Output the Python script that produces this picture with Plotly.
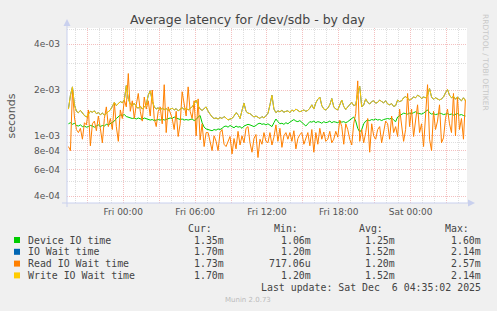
import plotly.graph_objects as go
import pandas as pd

# ---------------- data (values in milliseconds) ----------------
times = pd.date_range("2025-12-04 19:25", periods=200, freq="10min")

device_ms = [
    1.20,1.22,1.19,1.21,1.17,1.16,1.18,1.15,1.16,1.14,
    1.15,1.17,1.16,1.14,1.16,1.18,1.15,1.17,1.16,1.19,
    1.18,1.20,1.22,1.25,1.30,1.34,1.37,1.36,1.38,1.34,
    1.33,1.32,1.30,1.31,1.29,1.31,1.30,1.28,1.31,1.30,
    1.29,1.27,1.28,1.26,1.27,1.28,1.27,1.29,1.27,1.28,
    1.29,1.31,1.30,1.33,1.31,1.29,1.28,1.29,1.27,1.28,
    1.27,1.28,1.29,1.26,1.28,1.33,1.36,1.22,1.14,1.11,
    1.10,1.09,1.08,1.10,1.09,1.11,1.10,1.12,1.15,1.16,
    1.14,1.17,1.15,1.13,1.16,1.14,1.15,1.12,1.16,1.17,
    1.19,1.18,1.16,1.15,1.17,1.20,1.21,1.19,1.20,1.18,
    1.20,1.17,1.15,1.22,1.29,1.24,1.20,1.21,1.19,1.22,
    1.20,1.23,1.26,1.28,1.25,1.24,1.26,1.22,1.18,1.16,
    1.20,1.24,1.23,1.25,1.22,1.24,1.23,1.21,1.24,1.22,
    1.23,1.25,1.22,1.24,1.23,1.22,1.25,1.23,1.24,1.22,
    1.24,1.27,1.30,1.33,1.25,1.12,1.06,1.10,1.20,1.25,
    1.27,1.26,1.28,1.27,1.29,1.27,1.28,1.26,1.28,1.29,
    1.30,1.29,1.31,1.27,1.24,1.33,1.36,1.39,1.41,1.40,
    1.39,1.41,1.40,1.42,1.44,1.41,1.40,1.39,1.41,1.44,
    1.48,1.42,1.39,1.40,1.38,1.39,1.41,1.40,1.38,1.39,
    1.40,1.38,1.39,1.37,1.38,1.40,1.37,1.38,1.36,1.35,
]

write_ms = [
    1.50,1.85,2.10,1.60,1.45,1.42,1.47,1.40,1.36,1.33,
    1.38,1.45,1.43,1.46,1.40,1.42,1.38,1.41,1.37,1.40,
    1.43,1.48,1.56,1.66,1.58,1.62,1.68,1.65,1.72,2.14,
    1.75,1.62,1.58,1.64,1.55,1.52,1.57,1.50,1.55,1.60,
    1.85,1.98,1.70,1.55,1.50,1.53,1.48,1.52,1.49,1.51,
    1.47,1.50,1.52,1.48,1.51,1.46,1.50,1.53,1.49,1.52,
    1.48,1.51,1.55,1.62,1.72,1.58,1.50,1.47,1.52,1.55,
    1.45,1.38,1.33,1.30,1.31,1.29,1.32,1.30,1.34,1.31,
    1.27,1.29,1.30,1.35,1.42,1.38,1.30,1.47,1.64,1.45,
    1.41,1.40,1.36,1.33,1.35,1.32,1.30,1.34,1.31,1.36,
    1.40,1.60,1.85,1.50,1.42,1.46,1.44,1.47,1.43,1.45,
    1.46,1.42,1.48,1.45,1.50,1.47,1.44,1.46,1.48,1.45,
    1.47,1.52,1.60,1.50,1.65,1.74,1.80,1.58,1.50,1.48,
    1.52,1.60,1.76,1.55,1.50,1.48,1.58,1.72,1.56,1.49,
    1.55,1.62,1.66,1.58,1.60,1.90,2.12,1.55,1.60,1.75,
    1.66,1.62,1.68,1.70,1.64,1.66,1.72,1.68,1.65,1.70,
    1.62,1.60,1.63,1.56,1.58,1.72,1.68,1.70,1.78,1.81,
    1.76,1.72,1.75,1.80,1.78,1.85,1.82,1.76,1.80,1.78,
    1.85,2.05,1.80,1.74,1.78,1.76,1.72,1.75,1.80,1.92,
    2.02,1.85,1.78,1.82,1.74,1.80,1.76,1.70,1.78,1.70,
]

# "IO Wait time" has the same values as "Write IO Wait time" in the reference
iowait_ms = list(write_ms)

read_ms = [
    0.85,0.80,2.00,1.33,1.10,1.05,1.12,0.95,1.22,1.18,
    1.48,0.86,1.20,1.25,1.08,1.35,1.12,0.90,1.30,1.55,
    1.15,1.30,1.10,1.65,1.15,0.92,1.48,1.30,1.72,1.55,
    2.57,1.45,1.70,1.30,1.60,1.90,1.45,1.25,1.80,1.50,
    1.70,1.35,2.00,1.30,1.15,1.45,1.55,1.20,2.17,1.05,
    1.55,1.40,1.30,1.10,1.45,0.99,1.20,1.95,1.60,1.35,
    2.10,1.45,1.30,1.70,1.00,1.75,0.94,1.20,0.85,1.05,
    1.05,0.90,0.80,1.00,0.92,0.80,1.05,1.10,0.88,0.85,
    0.93,0.99,0.76,0.96,0.82,1.07,0.87,1.00,0.90,1.12,
    1.15,0.90,0.78,0.96,1.02,0.72,0.95,0.88,1.05,0.92,
    0.90,1.05,0.87,0.98,1.18,0.92,1.12,0.84,1.00,1.05,
    0.95,1.05,0.92,1.08,0.82,0.96,1.02,1.05,0.88,0.98,
    1.05,0.86,1.10,0.78,1.05,0.88,1.12,0.95,1.06,0.92,
    0.95,1.07,0.90,0.95,1.07,0.98,1.27,1.15,0.88,1.20,
    1.10,0.95,0.87,1.20,1.40,2.30,0.92,1.10,0.90,1.05,
    1.30,0.78,1.20,1.00,0.95,1.10,1.15,0.90,1.05,1.25,
    1.20,0.95,1.35,1.05,1.15,0.99,1.50,1.20,0.92,1.10,
    1.90,1.15,1.50,0.99,1.25,1.60,1.05,1.20,0.85,1.40,
    2.17,0.95,0.80,1.45,1.10,1.25,1.60,0.90,0.97,1.30,
    1.50,1.20,1.05,1.90,1.00,1.80,1.10,1.30,0.95,1.73,
]

series_names = ["Device IO time", "IO Wait time", "Read IO Wait time", "Write IO Wait time"]
series_colors = ["#00CC00", "#0066B3", "#FF8000", "#FFCC00"]
series_values = [device_ms, iowait_ms, read_ms, write_ms]

stat_headers = ["Cur:", "Min:", "Avg:", "Max:"]
stat_cur = ["1.35m", "1.70m", "1.73m", "1.70m"]
stat_min = ["1.06m", "1.20m", "717.06u", "1.20m"]
stat_avg = ["1.25m", "1.52m", "1.20m", "1.52m"]
stat_max = ["1.60m", "2.14m", "2.57m", "2.14m"]

y_tickvals = [4e-4, 6e-4, 8e-4, 1e-3, 2e-3, 4e-3]
y_ticktext = ["4e-04", "6e-04", "8e-04", "1e-03", "2e-03", "4e-03"]
y_minorvals = [5e-4, 7e-4, 9e-4, 3e-3, 5e-3]

x_major = pd.date_range("2025-12-04 21:00", "2025-12-06 03:00", freq="3h")
x_labels = {"2025-12-05 00:00": "Fri 00:00", "2025-12-05 06:00": "Fri 06:00",
            "2025-12-05 12:00": "Fri 12:00", "2025-12-05 18:00": "Fri 18:00",
            "2025-12-06 00:00": "Sat 00:00"}
x_minor = [t for t in pd.date_range("2025-12-04 20:00", "2025-12-06 04:00", freq="1h")
           if t.hour % 3 != 0]

title_text = "Average latency for /dev/sdb - by day"
last_update = "Last update: Sat Dec\u00a0\u00a06 04:35:02 2025"

# ---------------- layout geometry (pixels) ----------------
W, H = 497, 311
L, R, T, B = 67, 467, 28, 203


def px(x):
    return (x - L) / (R - L)


def py(y):
    return (B - y) / (B - T)


fig = go.Figure()
for name, color, vals in zip(series_names, series_colors, series_values):
    fig.add_trace(go.Scatter(
        x=times, y=[v * 1e-3 for v in vals], mode="lines", name=name,
        line=dict(color=color, width=1), hoverinfo="skip", showlegend=False))

MGRID = "rgba(235,140,140,0.55)"
GRID = "rgba(200,200,200,0.6)"
tickfont = dict(family="DejaVu Sans", size=9, color="#555555")

fig.update_layout(
    width=W, height=H,
    margin=dict(l=L, r=W - R, t=T, b=H - B),
    paper_bgcolor="#F0F0F0", plot_bgcolor="#FFFFFF",
    showlegend=False,
    xaxis=dict(
        type="date",
        range=["2025-12-04 19:17:45", "2025-12-06 04:42:45"],
        tickmode="array",
        tickvals=list(x_major),
        ticktext=[x_labels.get(t.strftime("%Y-%m-%d %H:%M"), "") for t in x_major],
        showgrid=True, gridcolor=MGRID, griddash="1px,1px", gridwidth=1,
        minor=dict(tickmode="array", tickvals=x_minor, showgrid=True,
                   gridcolor=GRID, griddash="1px,1px", gridwidth=1),
        zeroline=False, showline=False, ticks="",
        tickfont=tickfont, ticklabelstandoff=2,
    ),
    yaxis=dict(
        type="log",
        range=[-3.4421, -2.2904],
        tickmode="array", tickvals=y_tickvals, ticktext=y_ticktext,
        showgrid=True, gridcolor=MGRID, griddash="1px,1px", gridwidth=1,
        minor=dict(tickmode="array", tickvals=y_minorvals, showgrid=True,
                   gridcolor=GRID, griddash="1px,1px", gridwidth=1),
        zeroline=False, showline=False, ticks="",
        tickfont=tickfont, ticklabelstandoff=6,
    ),
)

AX = "#C9D0EE"
shapes = [
    dict(type="line", xref="paper", yref="paper", x0=px(67), x1=px(67), y0=py(207), y1=py(24),
         line=dict(color=AX, width=1)),
    dict(type="path", xref="paper", yref="paper",
         path=f"M {px(67)} {py(19)} L {px(63.5)} {py(26)} L {px(70.5)} {py(26)} Z",
         fillcolor=AX, line=dict(color=AX, width=0)),
    dict(type="line", xref="paper", yref="paper", x0=px(62), x1=px(470), y0=py(203), y1=py(203),
         line=dict(color=AX, width=1)),
    dict(type="path", xref="paper", yref="paper",
         path=f"M {px(475)} {py(203)} L {px(468)} {py(199.5)} L {px(468)} {py(206.5)} Z",
         fillcolor=AX, line=dict(color=AX, width=0)),
]

annotations = []


def ann(x, y, text, size, color, family="DejaVu Sans", xanchor="center", angle=0):
    annotations.append(dict(
        x=px(x), y=py(y), xref="paper", yref="paper", text=text, showarrow=False,
        xanchor=xanchor, yanchor="middle", textangle=angle,
        font=dict(family=family, size=size, color=color)))


ann(248, 19.5, title_text, 12.5, "#444444")
ann(11, 115.5, "seconds", 11, "#555555", angle=-90)
ann(486, 62, "RRDTOOL / TOBI OETIKER", 7.5, "#C8C8C8", angle=90)

MONO = "DejaVu Sans Mono"
ms = 9.9
hdr_right = [213.8, 299.8, 384.8, 470.5]
col_right = [225.7, 312.8, 396.7, 482.7]
for h, xr in zip(stat_headers, hdr_right):
    ann(xr, 228, h, ms, "#444444", family=MONO, xanchor="right")

row_y = [240, 251.8, 263.6, 275.4]
for i, name in enumerate(series_names):
    yy = row_y[i]
    ann(26, yy, name, ms, "#444444", family=MONO, xanchor="left")
    for vals, xr in zip([stat_cur, stat_min, stat_avg, stat_max], col_right):
        ann(xr, yy, vals[i], ms, "#444444", family=MONO, xanchor="right")
    shapes.append(dict(type="rect", xref="paper", yref="paper",
                       x0=px(14), x1=px(20), y0=py(yy + 3), y1=py(yy - 3),
                       fillcolor=series_colors[i], line=dict(width=0)))

ann(482.5, 287.5, last_update, ms, "#444444", family=MONO, xanchor="right")
ann(248, 300, "Munin 2.0.73", 7, "#BBBBBB")

fig.update_layout(shapes=shapes, annotations=annotations)

fig.write_html("out.html", config={"displayModeBar": False})
